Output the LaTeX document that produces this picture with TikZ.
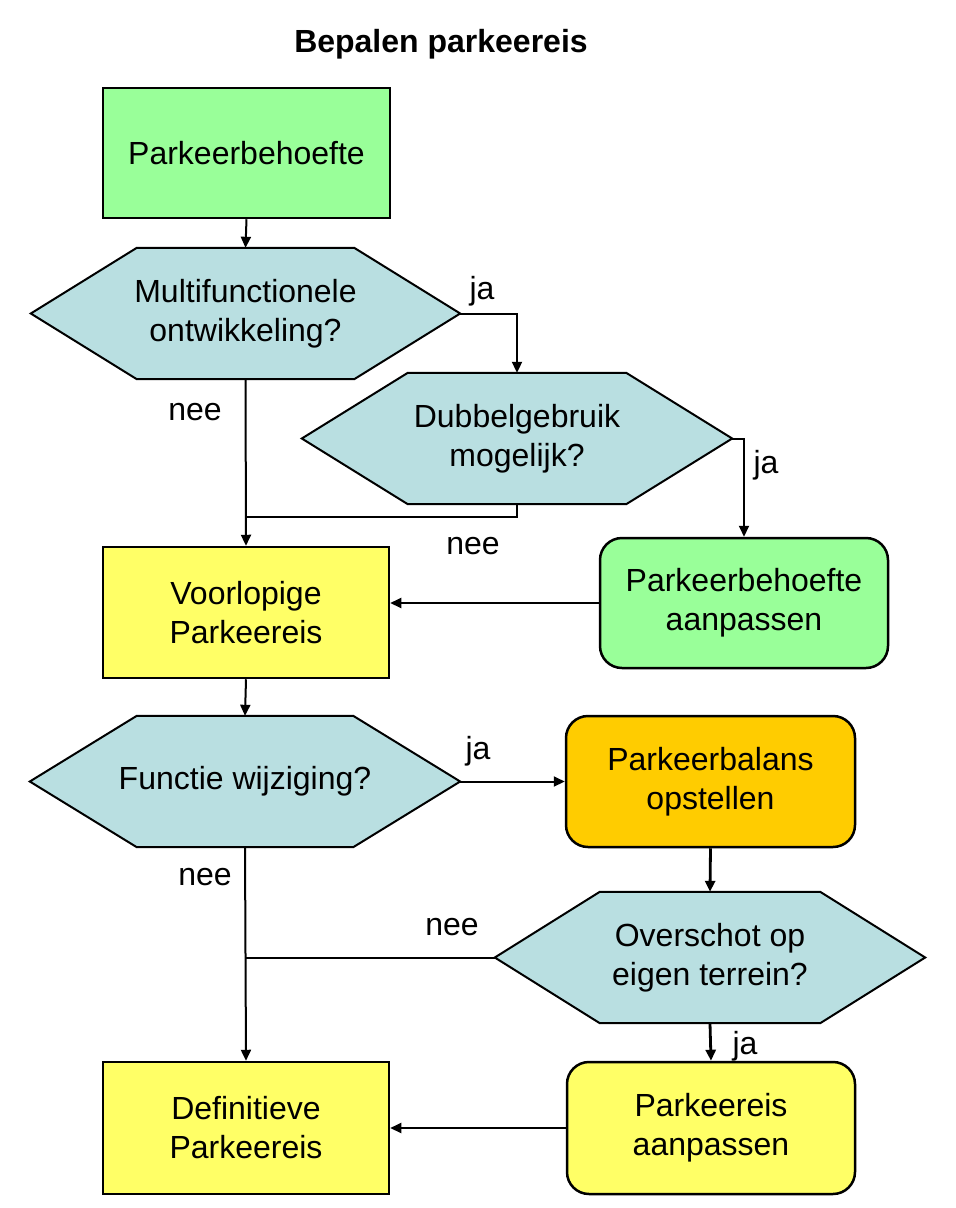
\documentclass[tikz,border=0pt]{standalone}
\usepackage{fontspec}
\setmainfont{Liberation Sans}
\usetikzlibrary{arrows.meta,backgrounds}
\definecolor{boxgreen}{HTML}{99FF99}
\definecolor{boxyellow}{HTML}{FFFF66}
\definecolor{boxorange}{HTML}{FFCC00}
\definecolor{hexblue}{HTML}{B9DFE1}
\begin{document}
\begin{tikzpicture}[x=1pt,y=-1pt,
  txt/.style={font=\fontsize{32}{39}\selectfont, align=center, text=black},
  sqbox/.style={txt, draw, line width=2.5pt, inner sep=0pt},
  rbox/.style={sqbox, rounded corners=22pt},
  hexn/.style={txt, inner sep=0pt},
  hexshape/.style={fill=hexblue, draw, line width=2pt, line join=miter},
  wire/.style={line width=2pt},
  conn/.style={wire, -{Triangle[length=11pt,width=10pt]}},
  lbl/.style={font=\fontsize{32}{38}\selectfont, inner sep=0pt}]
\useasboundingbox (0,0) rectangle (956,1208);

\node[font=\fontsize{32}{38}\selectfont\bfseries] (title) at (441,44) {Bepalen parkeereis};

\node[sqbox, fill=boxgreen, minimum width=287pt, minimum height=130pt] (b1) at (246.5,153) {Parkeerbehoefte};
\node[hexn, minimum width=429pt, minimum height=131pt] (h1) at (245.5,313.5) {Multifunctionele\\ontwikkeling?};
\node[hexn, minimum width=430pt, minimum height=131pt] (h2) at (517,438.5) {Dubbelgebruik\\mogelijk?};
\node[sqbox, fill=boxyellow, minimum width=286pt, minimum height=131pt] (b2) at (246,612.5) {Voorlopige\\Parkeereis};
\node[rbox, fill=boxgreen, minimum width=288pt, minimum height=130pt] (b3) at (744,603) {Parkeerbehoefte\\aanpassen};
\node[hexn, minimum width=430pt, minimum height=131pt] (h3) at (245,781.5) {Functie wijziging?};
\node[rbox, fill=boxorange, minimum width=289pt, minimum height=131pt] (b4) at (710.5,781.5) {Parkeerbalans\\opstellen};
\node[hexn, minimum width=430pt, minimum height=131pt] (h4) at (710,957.5) {Overschot op\\eigen terrein?};
\node[sqbox, fill=boxyellow, minimum width=286pt, minimum height=132pt] (b5) at (246,1128) {Definitieve\\Parkeereis};
\node[rbox, fill=boxyellow, minimum width=288pt, minimum height=132pt] (b6) at (711,1128) {Parkeereis\\aanpassen};

\begin{scope}[on background layer]
\fill[white] (0,0) rectangle (956,1208);
\foreach \n/\c in {h1/106,h2/106,h3/107,h4/105}
  \path[hexshape] (\n.west) -- ([xshift=\c]\n.north west) -- ([xshift=-\c]\n.north east)
    -- (\n.east) -- ([xshift=-\c]\n.south east) -- ([xshift=\c]\n.south west) -- cycle;
\end{scope}

\coordinate (j1) at (246,517);
\coordinate (j2) at (246,957.5);

\draw[conn] (b1.south) -- (h1.north);
\draw[conn] (h1.east) -| (h2.north);
\draw[conn] (h1.south) -- (b2.north);
\draw[wire] (h2.south) |- (j1);
\draw[conn] (h2.east) -| (b3.north);
\draw[conn] (b3.west) -- (b3.west -| b2.east);
\draw[conn] (b2.south) -- (h3.north);
\draw[conn] (h3.east) -- (b4.west);
\draw[conn] (h3.south) -- (b5.north);
\draw[conn, line width=2.8pt] (b4.south) -- (h4.north);
\draw[wire] (h4.west) -- (j2);
\draw[conn, line width=2.8pt] (h4.south) -- (b6.north);
\draw[conn] (b6.west) -- (b6.west -| b5.east);

\node[lbl] (l1) at (482,291) {ja};
\node[lbl] (l2) at (195,412) {nee};
\node[lbl] (l3) at (473,546) {nee};
\node[lbl] (l4) at (766,465) {ja};
\node[lbl] (l5) at (478,751) {ja};
\node[lbl] (l6) at (205,877) {nee};
\node[lbl] (l7) at (452,927) {nee};
\node[lbl] (l8) at (745,1046) {ja};
\end{tikzpicture}
\end{document}
